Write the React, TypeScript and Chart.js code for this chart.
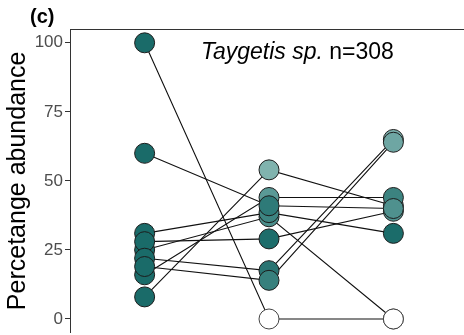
import React, { useEffect, useRef } from "react";
import { Chart, registerables } from "chart.js";
Chart.register(...registerables);

// Three sampling stages (x categories, positions 1..3)
const stages = [1, 2, 3];
// Individuals, in drawing order
const individuals = ["A", "B", "G", "F", "D", "E", "H", "I", "C"];
// Percentage abundance at each stage
const stage1Values = [100, 8, 16, 25, 31, 28, 22, 19, 60];
const stage2Values = [0, 54, 44, 37, 38.5, 29, 17.5, 14, 41];
const stage3Values = [0, 41, 44, 0, 31, 39, 65, 64, 40];
// Point fill colours
const stage1Colors = ["#1a6b69", "#1a6b69", "#1a6b69", "#1a6b69", "#1a6b69", "#1a6b69", "#1a6b69", "#1a6b69", "#1a6b69"];
const stage2Colors = ["#ffffff", "#80b3ae", "#5a9996", "#4b8e8b", "#3d8481", "#1d6d6b", "#2a7472", "#37807d", "#2e7a78"];
const stage3Colors = ["#ffffff", "#5f9c99", "#3c8380", "#ffffff", "#1b6c6a", "#4f918e", "#7cb0ad", "#6ea6a3", "#4f918e"];
const yTicks = [0, 25, 50, 75, 100];
const yTitle = "Percetange abundance";
const panelLabel = "(c)";
const speciesName = "Taygetis sp.";
const sampleText = " n=308";

const FONT = "'Liberation Sans', Arial, Helvetica, sans-serif";

export default function App() {
  const ref = useRef<HTMLCanvasElement>(null);
  useEffect(() => {
    if (!ref.current) return;
    const allStages = [stage1Values, stage2Values, stage3Values];
    const allColors = [stage1Colors, stage2Colors, stage3Colors];
    const lineSets = individuals.map((name, i) => ({
      type: "line" as const,
      label: name,
      data: stages.map((s, k) => ({ x: s, y: allStages[k][i] })),
      borderColor: "#111111",
      borderWidth: 1.1,
      pointRadius: 0,
      fill: false,
      order: 2,
    }));
    const pointSets = stages.map((s, k) => ({
      type: "scatter" as const,
      label: "stage" + s,
      data: allStages[k].map((v) => ({ x: s, y: v })),
      pointRadius: 10,
      pointBackgroundColor: allColors[k],
      pointBorderColor: allColors[k].map((c) => (c === "#ffffff" ? "#444444" : "#1c1c1c")),
      pointBorderWidth: 1,
      showLine: false,
      order: 1,
    }));
    const textPlugin = {
      id: "texts",
      afterDraw(chart: any) {
        const ctx = chart.ctx;
        const a = chart.chartArea;
        ctx.save();
        ctx.strokeStyle = "#333333";
        ctx.lineWidth = 1;
        ctx.beginPath();
        ctx.moveTo(a.left, a.top + 0.5);
        ctx.lineTo(a.right, a.top + 0.5);
        ctx.stroke();
        ctx.fillStyle = "#000";
        ctx.font = "bold 20px " + FONT;
        ctx.textAlign = "left";
        ctx.textBaseline = "alphabetic";
        ctx.fillText(panelLabel, 30, 23);
        ctx.font = "italic 23px " + FONT;
        ctx.fillText(speciesName, 201, 59);
        const w = ctx.measureText(speciesName).width;
        ctx.font = "23px " + FONT;
        ctx.fillText(sampleText, 201 + w, 59);
        ctx.translate(18, (a.top + a.bottom) / 2);
        ctx.rotate(-Math.PI / 2);
        ctx.font = "25px " + FONT;
        ctx.textAlign = "center";
        ctx.textBaseline = "middle";
        ctx.fillText(yTitle, 0, 0);
        ctx.restore();
      },
    };
    const chart = new Chart(ref.current, {
      type: "scatter",
      data: { datasets: [...lineSets, ...pointSets] as any },
      options: {
        responsive: false,
        devicePixelRatio: 1,
        animation: false,
        layout: { padding: { left: 0, top: 29, right: 12, bottom: 9 } },
        plugins: { legend: { display: false }, tooltip: { enabled: false } },
        scales: {
          x: { type: "linear", min: 0.4, max: 3.6, display: false },
          y: {
            type: "linear",
            min: -5,
            max: 105,
            afterBuildTicks: (scale: any) => {
              scale.ticks = yTicks.map((v) => ({ value: v }));
            },
            afterFit: (scale: any) => {
              scale.width = 70;
            },
            grid: { drawOnChartArea: false, drawTicks: true, tickLength: 5, color: "#333333" },
            border: { display: true, color: "#333333", width: 1 },
            ticks: { color: "#4d4d4d", padding: 2, font: { size: 17, family: FONT } },
          },
        },
      },
      plugins: [textPlugin],
    });
    return () => chart.destroy();
  }, []);
  return (
    <div style={{ position: "fixed", left: 0, top: 0, width: 464, height: 335, overflow: "hidden", background: "#fff" }}>
      <canvas ref={ref} width={480} height={345} style={{ display: "block", width: 480, height: 345 }} />
    </div>
  );
}
